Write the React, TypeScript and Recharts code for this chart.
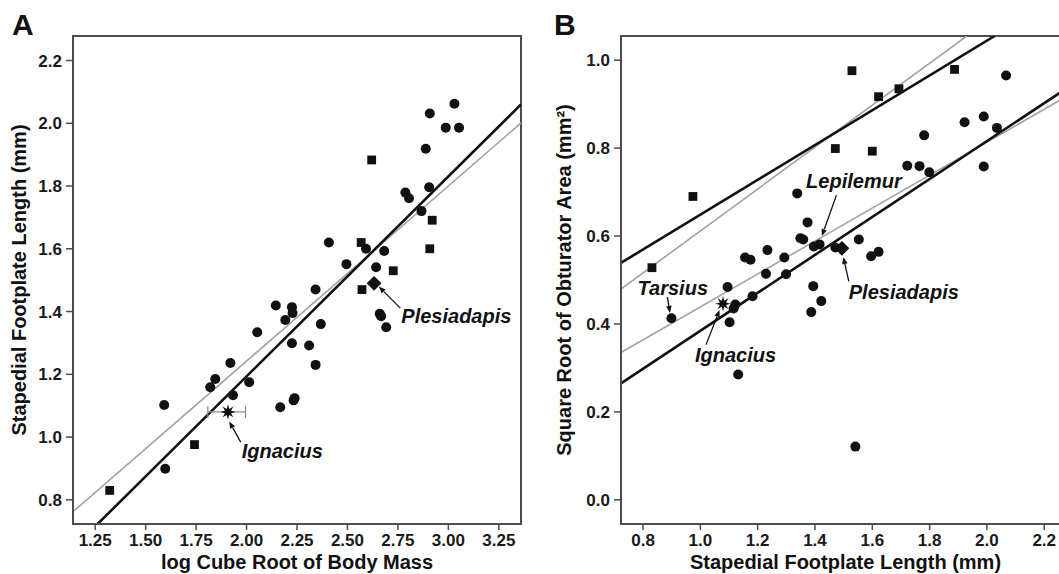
import React from 'react';
import {
  ScatterChart,
  Scatter,
  XAxis,
  YAxis,
  ReferenceLine,
  ReferenceDot,
  ReferenceArea,
  ErrorBar,
} from 'recharts';

const FONT = '"Liberation Sans", Arial, Helvetica, sans-serif';
const INK = '#111111';
const AXIS = '#4d4d4d';
const GREY = '#a3a3a3';

// ---------------- Panel A ----------------
const aXTicks = [1.25, 1.5, 1.75, 2.0, 2.25, 2.5, 2.75, 3.0, 3.25];
const aYTicks = [0.8, 1.0, 1.2, 1.4, 1.6, 1.8, 2.0, 2.2];
const aXDomain: [number, number] = [1.14, 3.36];
const aYDomain: [number, number] = [0.723, 2.278];

const aCircles = [
  [3.03, 2.062], [2.908, 2.031], [2.987, 1.986], [3.053, 1.986], [2.888, 1.919],
  [2.905, 1.796], [2.787, 1.779], [2.805, 1.761], [2.867, 1.72], [2.408, 1.62],
  [2.592, 1.6], [2.682, 1.593], [2.495, 1.551], [2.642, 1.541], [2.342, 1.47],
  [2.145, 1.419], [2.225, 1.414], [2.228, 1.395], [2.192, 1.373], [2.368, 1.36],
  [2.66, 1.393], [2.667, 1.385], [2.692, 1.35], [2.053, 1.334], [2.225, 1.299],
  [2.31, 1.292], [2.342, 1.23], [1.92, 1.236], [1.845, 1.185], [1.82, 1.159],
  [2.013, 1.175], [1.933, 1.133], [1.592, 1.102], [2.167, 1.095], [2.238, 1.124],
  [2.233, 1.117], [1.597, 0.899],
];
const aSquares = [
  [2.62, 1.883], [2.92, 1.691], [2.908, 1.6], [2.568, 1.62], [2.727, 1.53],
  [2.572, 1.47], [1.742, 0.976], [1.322, 0.83],
];
const aDiamond = [[2.632, 1.49]];
const aStar = [{ x: 1.908, y: 1.08, err: [0.1, 0.087] }];

const aFitBlack = [[1.262, 0.723], [3.36, 2.06]];
const aFitGrey = [[1.14, 0.762], [3.36, 2.001]];

const aNotes = [
  { text: 'Plesiadapis', tx: 2.767, ty: 1.386, fx: 2.762, fy: 1.411, ex: 2.655, ey: 1.48 },
  { text: 'Ignacius', tx: 1.976, ty: 0.954, fx: 1.971, fy: 0.984, ex: 1.914, ey: 1.05 },
];

// ---------------- Panel B ----------------
const bXTicks = [0.8, 1.0, 1.2, 1.4, 1.6, 1.8, 2.0, 2.2];
const bYTicks = [0.0, 0.2, 0.4, 0.6, 0.8, 1.0];
const bXDomain: [number, number] = [0.723, 2.29];
const bYDomain: [number, number] = [-0.055, 1.055];

const bCircles = [
  [2.067, 0.965], [1.922, 0.859], [1.989, 0.872], [2.035, 0.846], [1.781, 0.829],
  [1.722, 0.76], [1.765, 0.759], [1.799, 0.745], [1.989, 0.758], [1.338, 0.697],
  [1.374, 0.631], [1.349, 0.595], [1.359, 0.592], [1.396, 0.576], [1.416, 0.581],
  [1.471, 0.574], [1.553, 0.592], [1.596, 0.554], [1.622, 0.564], [1.156, 0.551],
  [1.175, 0.546], [1.234, 0.568], [1.293, 0.551], [1.229, 0.514], [1.299, 0.513],
  [1.394, 0.486], [1.095, 0.484], [0.899, 0.413], [1.122, 0.444], [1.116, 0.435],
  [1.182, 0.463], [1.102, 0.404], [1.387, 0.427], [1.422, 0.452], [1.132, 0.285],
  [1.541, 0.121],
];
const bSquares = [
  [1.529, 0.976], [1.887, 0.979], [1.622, 0.917], [1.693, 0.935], [1.471, 0.799],
  [1.6, 0.793], [0.974, 0.69], [0.831, 0.528],
];
const bDiamond = [[1.494, 0.572]];
const bStar = [{ x: 1.079, y: 0.446 }];

const bFitBlackUpper = [[0.723, 0.539], [2.027, 1.055]];
const bFitGreyUpper = [[0.723, 0.4795], [1.93, 1.055]];
const bFitBlackLower = [[0.723, 0.265], [2.29, 0.941]];
const bFitGreyLower = [[0.723, 0.335], [2.29, 0.922]];

const bNotes = [
  { text: 'Lepilemur', tx: 1.369, ty: 0.724, fx: 1.475, fy: 0.693, ex: 1.424, ey: 0.6 },
  { text: 'Tarsius', tx: 0.781, ty: 0.482, fx: 0.885, fy: 0.461, ex: 0.894, ey: 0.425 },
  { text: 'Ignacius', tx: 0.981, ty: 0.328, fx: 1.02, fy: 0.353, ex: 1.067, ey: 0.432 },
  { text: 'Plesiadapis', tx: 1.518, ty: 0.471, fx: 1.518, fy: 0.497, ex: 1.499, ey: 0.552 },
];

// ---------------- helpers ----------------
const pts = (arr: number[][]) => arr.map(([x, y]) => ({ x, y }));
const seg = (arr: number[][]) => arr.map(([x, y]) => ({ x, y }));

const CircleShape = (p: any) => <circle cx={p.cx} cy={p.cy} r={5} fill={INK} />;
const SquareShape = (p: any) => (
  <rect x={p.cx - 4.4} y={p.cy - 4.4} width={8.8} height={8.8} fill={INK} />
);
const DiamondShape = (p: any) => {
  const h = 7.4;
  return (
    <polygon
      points={`${p.cx},${p.cy - h} ${p.cx + h},${p.cy} ${p.cx},${p.cy + h} ${p.cx - h},${p.cy}`}
      fill={INK}
    />
  );
};
const StarShape = (p: any) => {
  const out: string[] = [];
  for (let i = 0; i < 16; i++) {
    const r = i % 2 === 0 ? 7.6 : 3.3;
    const a = (Math.PI * i) / 8 - Math.PI / 2;
    out.push(`${p.cx + r * Math.cos(a)},${p.cy + r * Math.sin(a)}`);
  }
  return <polygon points={out.join(' ')} fill={INK} />;
};

const ArrowShape = (p: any) => {
  const { x1, y1, x2, y2 } = p;
  const ang = Math.atan2(y2 - y1, x2 - x1);
  const L = 7;
  const W = 2.8;
  const bx = x2 - L * Math.cos(ang);
  const by = y2 - L * Math.sin(ang);
  const px = -Math.sin(ang) * W;
  const py = Math.cos(ang) * W;
  return (
    <g>
      <line x1={x1} y1={y1} x2={bx} y2={by} stroke={INK} strokeWidth={1.3} />
      <polygon points={`${x2},${y2} ${bx + px},${by + py} ${bx - px},${by - py}`} fill={INK} />
    </g>
  );
};

const noteText = (text: string) => (p: any) => (
  <text
    x={p.cx}
    y={p.cy}
    dy="0.33em"
    fontFamily={FONT}
    fontSize={20}
    fontWeight={700}
    fontStyle="italic"
    fill={INK}
  >
    {text}
  </text>
);

const tickStyle = { fontSize: 17, fontWeight: 700, fill: '#1a1a1a', fontFamily: FONT };
const titleStyle = { fontSize: 20, fontWeight: 700, fill: INK, fontFamily: FONT, textAnchor: 'middle' as const };

type PanelProps = {
  width: number;
  marginLeft: number;
  xDomain: [number, number];
  yDomain: [number, number];
  xTicks: number[];
  yTicks: number[];
  xDigits: number;
  xTitle: string;
  yTitle: string;
  yTitleOffset: number;
  circles: number[][];
  squares: number[][];
  diamond: number[][];
  star: any[];
  fits: { d: number[][]; c: string; w: number }[];
  notes: { text: string; tx: number; ty: number; fx: number; fy: number; ex: number; ey: number }[];
  errorBar?: boolean;
};

function Panel(props: PanelProps) {
  const {
    width, marginLeft, xDomain, yDomain, xTicks, yTicks, xDigits, xTitle, yTitle, yTitleOffset,
    circles, squares, diamond, star, fits, notes, errorBar,
  } = props;
  return (
    <ScatterChart
      width={width}
      height={574}
      margin={{ top: 36, right: 9, bottom: 0, left: marginLeft }}
    >
      <XAxis
        type="number"
        dataKey="x"
        domain={xDomain}
        ticks={xTicks}
        allowDataOverflow
        tickFormatter={(v: number) => v.toFixed(xDigits)}
        tick={tickStyle}
        tickSize={6}
        tickMargin={4}
        height={50}
        interval={0}
        axisLine={{ stroke: AXIS, strokeWidth: 2 }}
        tickLine={{ stroke: AXIS, strokeWidth: 1.5 }}
        label={{ value: xTitle, position: 'insideBottom', offset: 5, style: titleStyle }}
      />
      <YAxis
        type="number"
        dataKey="y"
        domain={yDomain}
        ticks={yTicks}
        allowDataOverflow
        tickFormatter={(v: number) => v.toFixed(1)}
        tick={tickStyle}
        tickSize={7}
        tickMargin={4}
        width={60}
        interval={0}
        axisLine={{ stroke: AXIS, strokeWidth: 2 }}
        tickLine={{ stroke: AXIS, strokeWidth: 1.5 }}
        label={{ value: yTitle, angle: -90, position: 'insideLeft', offset: yTitleOffset, style: titleStyle }}
      />
      <ReferenceArea
        x1={xDomain[0]}
        x2={xDomain[1]}
        y1={yDomain[0]}
        y2={yDomain[1]}
        fill="none"
        fillOpacity={0}
        stroke={AXIS}
        strokeWidth={2}
        ifOverflow="visible"
      />
      {fits.map((f, i) => (
        <ReferenceLine
          key={'fit' + i}
          segment={seg(f.d)}
          stroke={f.c}
          strokeWidth={f.w}
          ifOverflow="hidden"
        />
      ))}
      <Scatter data={pts(circles)} shape={CircleShape} isAnimationActive={false} />
      <Scatter data={pts(squares)} shape={SquareShape} isAnimationActive={false} />
      <Scatter data={pts(diamond)} shape={DiamondShape} isAnimationActive={false} />
      <Scatter data={star} shape={StarShape} isAnimationActive={false}>
        {errorBar ? (
          <ErrorBar
            dataKey="err"
            direction="x"
            width={6}
            stroke="#8c8c8c"
            strokeWidth={1.2}
            isAnimationActive={false}
          />
        ) : null}
      </Scatter>
      {notes.map((n, i) => (
        <ReferenceLine
          key={'arrow' + i}
          segment={[{ x: n.fx, y: n.fy }, { x: n.ex, y: n.ey }]}
          shape={ArrowShape}
          ifOverflow="visible"
        />
      ))}
      {notes.map((n, i) => (
        <ReferenceDot
          key={'note' + i}
          x={n.tx}
          y={n.ty}
          r={0}
          shape={noteText(n.text)}
          ifOverflow="visible"
        />
      ))}
    </ScatterChart>
  );
}

export default function App() {
  return (
    <div
      style={{
        position: 'absolute',
        left: 0,
        top: 0,
        width: 1059,
        height: 574,
        overflow: 'hidden',
        background: '#ffffff',
      }}
    >
      <div style={{ position: 'absolute', left: 0, top: 0 }}>
        <Panel
          width={530}
          marginLeft={13}
          xDomain={aXDomain}
          yDomain={aYDomain}
          xTicks={aXTicks}
          yTicks={aYTicks}
          xDigits={2}
          xTitle="log Cube Root of Body Mass"
          yTitle="Stapedial Footplate Length (mm)"
          yTitleOffset={6}
          circles={aCircles}
          squares={aSquares}
          diamond={aDiamond}
          star={aStar}
          errorBar
          fits={[
            { d: aFitGrey, c: GREY, w: 1.6 },
            { d: aFitBlack, c: INK, w: 2.6 },
          ]}
          notes={aNotes}
        />
      </div>
      <div style={{ position: 'absolute', left: 529, top: 0 }}>
        <Panel
          width={550}
          marginLeft={32}
          xDomain={bXDomain}
          yDomain={bYDomain}
          xTicks={bXTicks}
          yTicks={bYTicks}
          xDigits={1}
          xTitle="Stapedial Footplate Length (mm)"
          yTitle="Square Root of Obturator Area (mm²)"
          yTitleOffset={3}
          circles={bCircles}
          squares={bSquares}
          diamond={bDiamond}
          star={bStar}
          fits={[
            { d: bFitGreyUpper, c: GREY, w: 1.6 },
            { d: bFitGreyLower, c: GREY, w: 1.6 },
            { d: bFitBlackUpper, c: INK, w: 2.6 },
            { d: bFitBlackLower, c: INK, w: 2.6 },
          ]}
          notes={bNotes}
        />
      </div>
      <svg
        width={1059}
        height={574}
        style={{ position: 'absolute', left: 0, top: 0, pointerEvents: 'none' }}
      >
        <text x={12} y={35} fontFamily={FONT} fontSize={30} fontWeight={700} fill={INK}>
          A
        </text>
        <text x={554} y={35} fontFamily={FONT} fontSize={30} fontWeight={700} fill={INK}>
          B
        </text>
      </svg>
    </div>
  );
}
